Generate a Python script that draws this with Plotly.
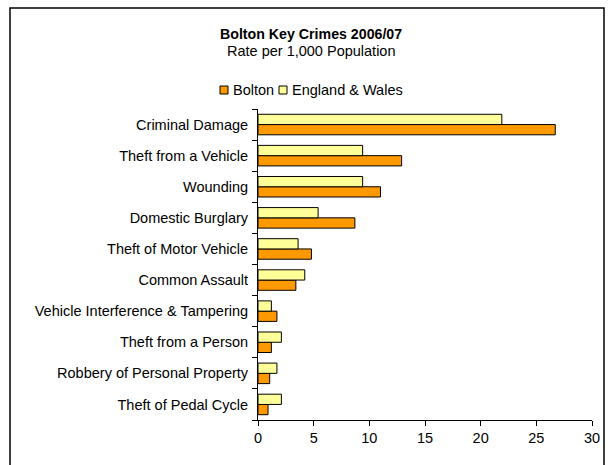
import plotly.graph_objects as go

# Crime categories, listed top to bottom
categories = [
    "Criminal Damage",
    "Theft from a Vehicle",
    "Wounding",
    "Domestic Burglary",
    "Theft of Motor Vehicle",
    "Common Assault",
    "Vehicle Interference & Tampering",
    "Theft from a Person",
    "Robbery of Personal Property",
    "Theft of Pedal Cycle",
]
bolton = [26.7, 12.9, 11.0, 8.7, 4.8, 3.4, 1.7, 1.2, 1.05, 0.9]
england_wales = [21.9, 9.4, 9.4, 5.4, 3.6, 4.2, 1.2, 2.1, 1.7, 2.1]
x_ticks = [0, 5, 10, 15, 20, 25, 30]

series_names = ["Bolton", "England & Wales"]
series_colors = ["#FF9900", "#FFFF99"]

FONT = "Liberation Sans, Arial, sans-serif"
FS = 14.5

W, H = 614, 465
M_L, M_R, M_T, M_B = 258, 22, 109, 45
PW, PH = W - M_L - M_R, H - M_T - M_B


def px_x(x):
    """Page pixel x -> paper fraction."""
    return (x - M_L) / PW


def px_y(y):
    """Page pixel y (from top) -> paper fraction."""
    return (H - M_B - y) / PH


# bottom-up order so Bolton sits below England & Wales in each group
cats_rev = categories[::-1]

fig = go.Figure()
for name, vals, col in zip(series_names, [bolton, england_wales], series_colors):
    fig.add_trace(go.Bar(
        y=cats_rev, x=vals[::-1], orientation="h", name=name,
        marker=dict(color=col, line=dict(color="black", width=1)),
        showlegend=False,
    ))

# compact legend: small outlined squares followed by the series names
legend_items = [(220, 231), (279, 290)]
shapes = [
    dict(type="rect", xref="paper", yref="paper",
         x0=px_x(10), x1=px_x(604), y0=px_y(480), y1=px_y(8),
         line=dict(color="black", width=1.5), fillcolor="rgba(0,0,0,0)",
         layer="below"),
]
annotations = [
    dict(text="<b>Bolton Key Crimes 2006/07</b>", xref="paper", yref="paper",
         x=px_x(311), y=px_y(34), xanchor="center", yanchor="middle",
         showarrow=False, font=dict(size=14.2)),
    dict(text="Rate per 1,000 Population", xref="paper", yref="paper",
         x=px_x(311), y=px_y(51), xanchor="center", yanchor="middle",
         showarrow=False, font=dict(size=FS)),
]
for (sq_x, tx_x), name, col in zip(legend_items, series_names, series_colors):
    shapes.append(dict(
        type="rect", xref="paper", yref="paper",
        x0=px_x(sq_x), x1=px_x(sq_x + 8), y0=px_y(94), y1=px_y(86),
        line=dict(color="black", width=1), fillcolor=col,
    ))
    annotations.append(dict(
        text=name, xref="paper", yref="paper",
        x=px_x(tx_x), y=px_y(90), xanchor="left", yanchor="middle",
        showarrow=False, font=dict(size=FS),
    ))

fig.update_layout(
    width=W, height=H,
    margin=dict(l=M_L, r=M_R, t=M_T, b=M_B),
    paper_bgcolor="white", plot_bgcolor="white",
    barmode="group", bargap=0.34, bargroupgap=0,
    font=dict(family=FONT, size=FS, color="black"),
    showlegend=False,
    xaxis=dict(
        range=[0, 30], tickvals=x_ticks, showgrid=False, zeroline=False,
        showline=True, linecolor="black", linewidth=1,
        ticks="outside", ticklen=5, tickcolor="black",
        tickfont=dict(size=FS),
    ),
    yaxis=dict(
        type="category", categoryorder="array", categoryarray=cats_rev,
        showgrid=False, showline=True, linecolor="black", linewidth=1,
        ticks="outside", ticklen=5, tickcolor="black", tickson="boundaries",
        tickfont=dict(size=FS), ticklabelstandoff=6,
    ),
    annotations=annotations,
    shapes=shapes,
)

fig.write_html("out.html")
